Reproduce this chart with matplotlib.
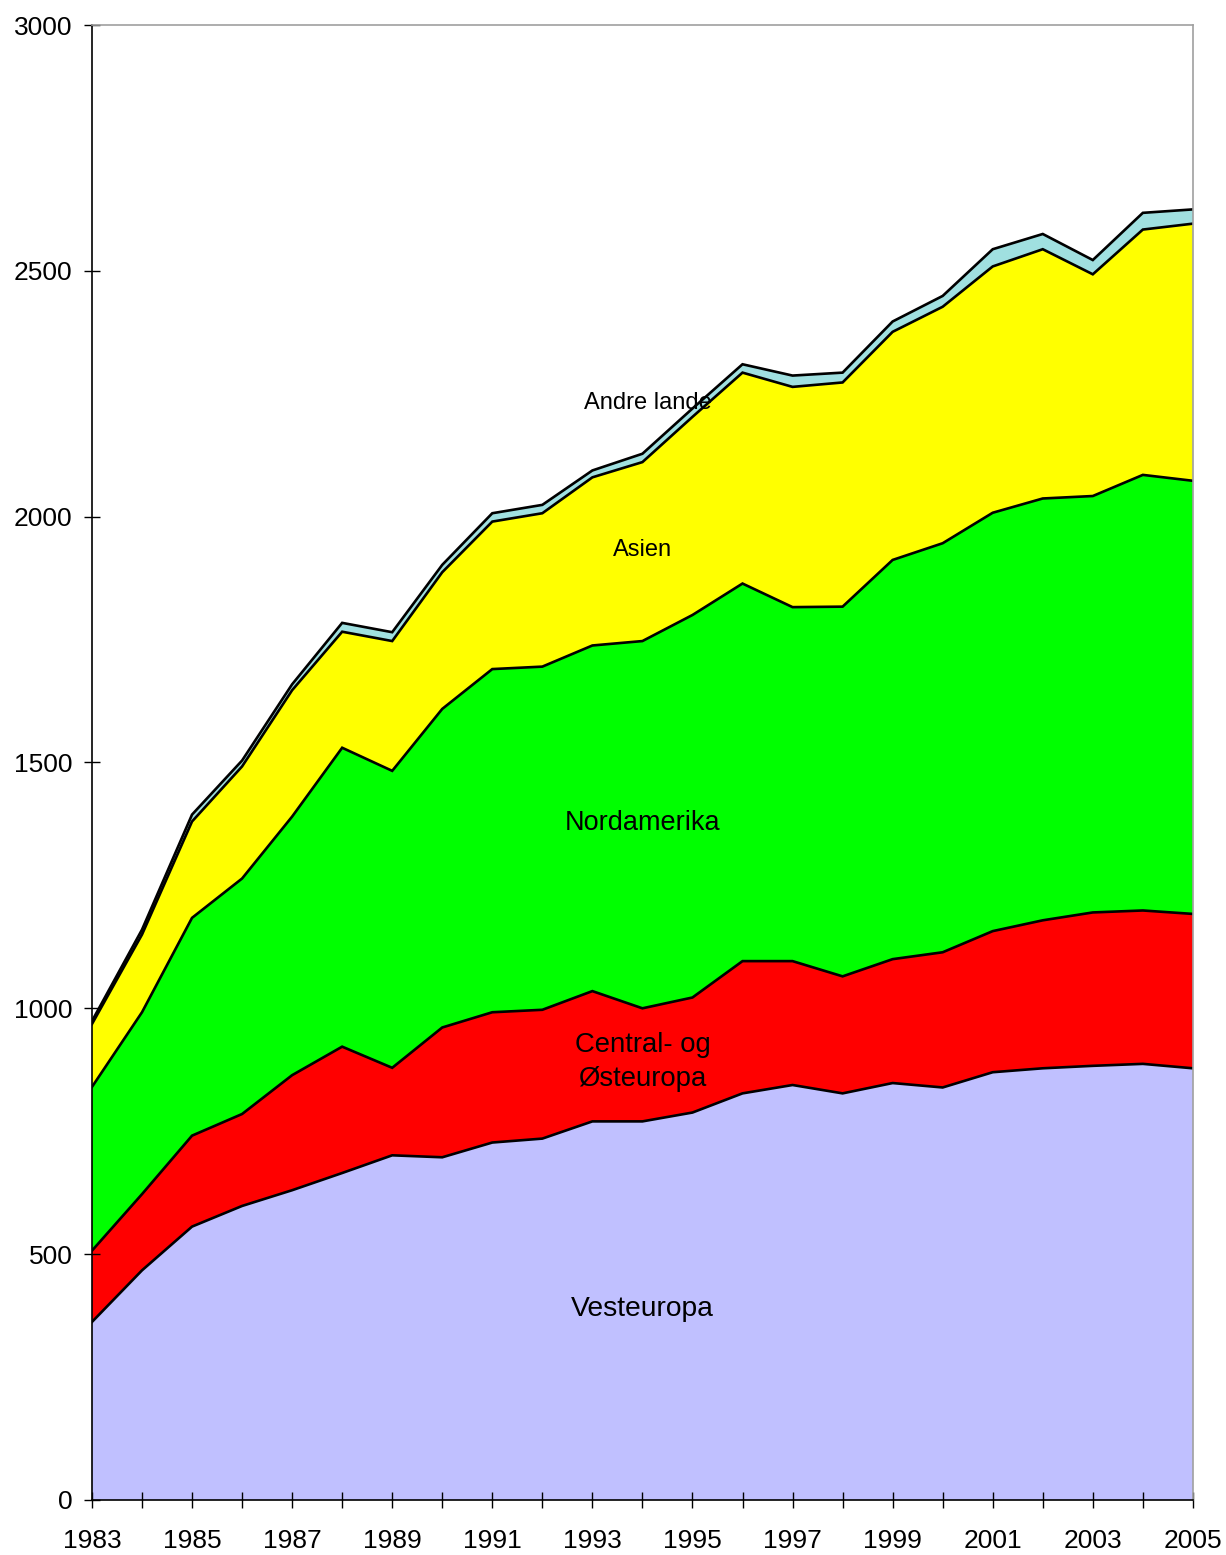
import numpy as np
import matplotlib
matplotlib.use("Agg")
import matplotlib.pyplot as plt

plt.rcParams['font.family'] = ['Liberation Sans', 'DejaVu Sans']

years = list(range(1983, 2006))

# values per region (stacked from the bottom up)
vesteuropa = [362, 467, 556, 598, 630, 665, 701, 697, 727, 735, 770, 770,
              788, 827, 844, 827, 848, 839, 870, 878, 883, 887, 878]
central_ost = [145, 155, 185, 187, 234, 257, 178, 264, 265, 262, 265, 230,
               234, 269, 252, 238, 252, 275, 287, 301, 312, 312, 314]
nordamerika = [333, 370, 443, 479, 526, 608, 604, 648, 698, 698, 703, 747,
               778, 768, 720, 752, 812, 832, 851, 858, 847, 886, 881]
asien = [128, 158, 196, 228, 257, 236, 264, 278, 300, 312, 342, 364,
         403, 429, 448, 456, 464, 481, 501, 507, 451, 499, 523]
andre = [6, 10, 14, 12, 12, 18, 18, 15, 17, 17, 14, 17,
         17, 17, 23, 20, 21, 22, 35, 31, 29, 34, 29]

series = [vesteuropa, central_ost, nordamerika, asien, andre]
colors = ['#C0C0FF', '#FF0000', '#00FF00', '#FFFF00', '#A0E0E0']

xtick_labels = [str(y) if (y - 1983) % 2 == 0 else '' for y in years]

fig = plt.figure(figsize=(12.26, 15.55), dpi=100)
ax = fig.add_axes([0.075, 0.0354, 0.898, 0.9485])

ax.stackplot(years, *series, colors=colors, linewidth=0)

# black outline on top of each band
tops = np.cumsum(np.array(series), axis=0)
for top in tops:
    ax.plot(years, top, color='black', linewidth=1.9, solid_joinstyle='miter')

ax.set_xlim(1983, 2005)
ax.set_ylim(0, 3000)
ax.set_xticks(years)
ax.set_xticklabels(xtick_labels)
ax.set_yticks(range(0, 3001, 500))

ax.tick_params(axis='both', direction='inout', length=12, width=1,
               labelsize=19, color='black')
ax.tick_params(axis='x', pad=15)
ax.tick_params(axis='y', pad=8)

for side in ['top', 'right']:
    ax.spines[side].set_color('#A0A0A0')
    ax.spines[side].set_linewidth(1.2)
for side in ['left', 'bottom']:
    ax.spines[side].set_color('black')
    ax.spines[side].set_linewidth(1.2)

ax.text(1994.1, 2231, 'Andre lande', ha='center', va='center', fontsize=17)
ax.text(1994.0, 1932, 'Asien', ha='center', va='center', fontsize=17)
ax.text(1994.0, 1377, 'Nordamerika', ha='center', va='center', fontsize=19.5)
ax.text(1994.0, 891, 'Central- og\nØsteuropa', ha='center', va='center',
        fontsize=19.8, linespacing=1.4)
ax.text(1994.0, 388, 'Vesteuropa', ha='center', va='center', fontsize=20.3)

fig.savefig('out.png', dpi=100)
